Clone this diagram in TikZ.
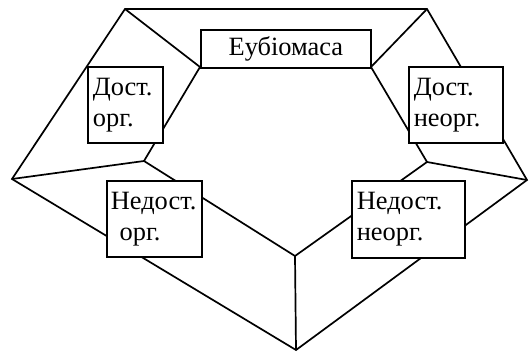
\documentclass[tikz,border=0pt]{standalone}
\usepackage{fontspec}
\setmainfont{Liberation Serif}
\begin{document}
\begin{tikzpicture}[x=1pt,y=-1pt,
  edge/.style={line width=1.7pt, line join=miter},
  box/.style={draw, line width=1.7pt, fill=white, anchor=north west,
    inner xsep=5pt, inner ysep=0pt, align=left,
    font=\fontsize{26.4}{31}\selectfont},
]
\useasboundingbox (0,0) rectangle (529,353);
% outer ring
\coordinate (T1) at (125,9);
\coordinate (T2) at (427,9);
\coordinate (R)  at (527,180);
\coordinate (B)  at (296,350);
\coordinate (L)  at (12,179);
% inner ring
\coordinate (t1) at (200,67);
\coordinate (t2) at (371,67);
\coordinate (r)  at (427,162);
\coordinate (b)  at (295,256);
\coordinate (l)  at (144,161);

\draw[edge] (T1) -- (T2) -- (R) -- (B) -- (L) -- cycle;
\draw[edge] (t1) -- (t2) -- (r) -- (b) -- (l) -- cycle;
\draw[edge] (T1) -- (t1) (T2) -- (t2) (R) -- (r) (B) -- (b) (L) -- (l);

% compartments
\node[box, align=center, minimum width=170pt, minimum height=38pt,
  text width=160pt] (bio) at (200,29) {Еубіомаса};
\node[box, minimum width=75pt, minimum height=76pt, text width=65pt]
  (dorg) at (87,66) {Дост.\\орг.};
\node[box, minimum width=94pt, minimum height=76pt, text width=84pt]
  (dneorg) at (408,66) {Дост.\\неорг.};
\node[box, inner xsep=4pt, minimum width=95pt, minimum height=76pt, text width=87pt]
  (ndorg) at (106,180) {Недост.\\\ орг.};
\node[box, minimum width=113pt, minimum height=77pt, text width=103pt]
  (ndneorg) at (351,180) {Недост.\\неорг.};
\end{tikzpicture}
\end{document}
